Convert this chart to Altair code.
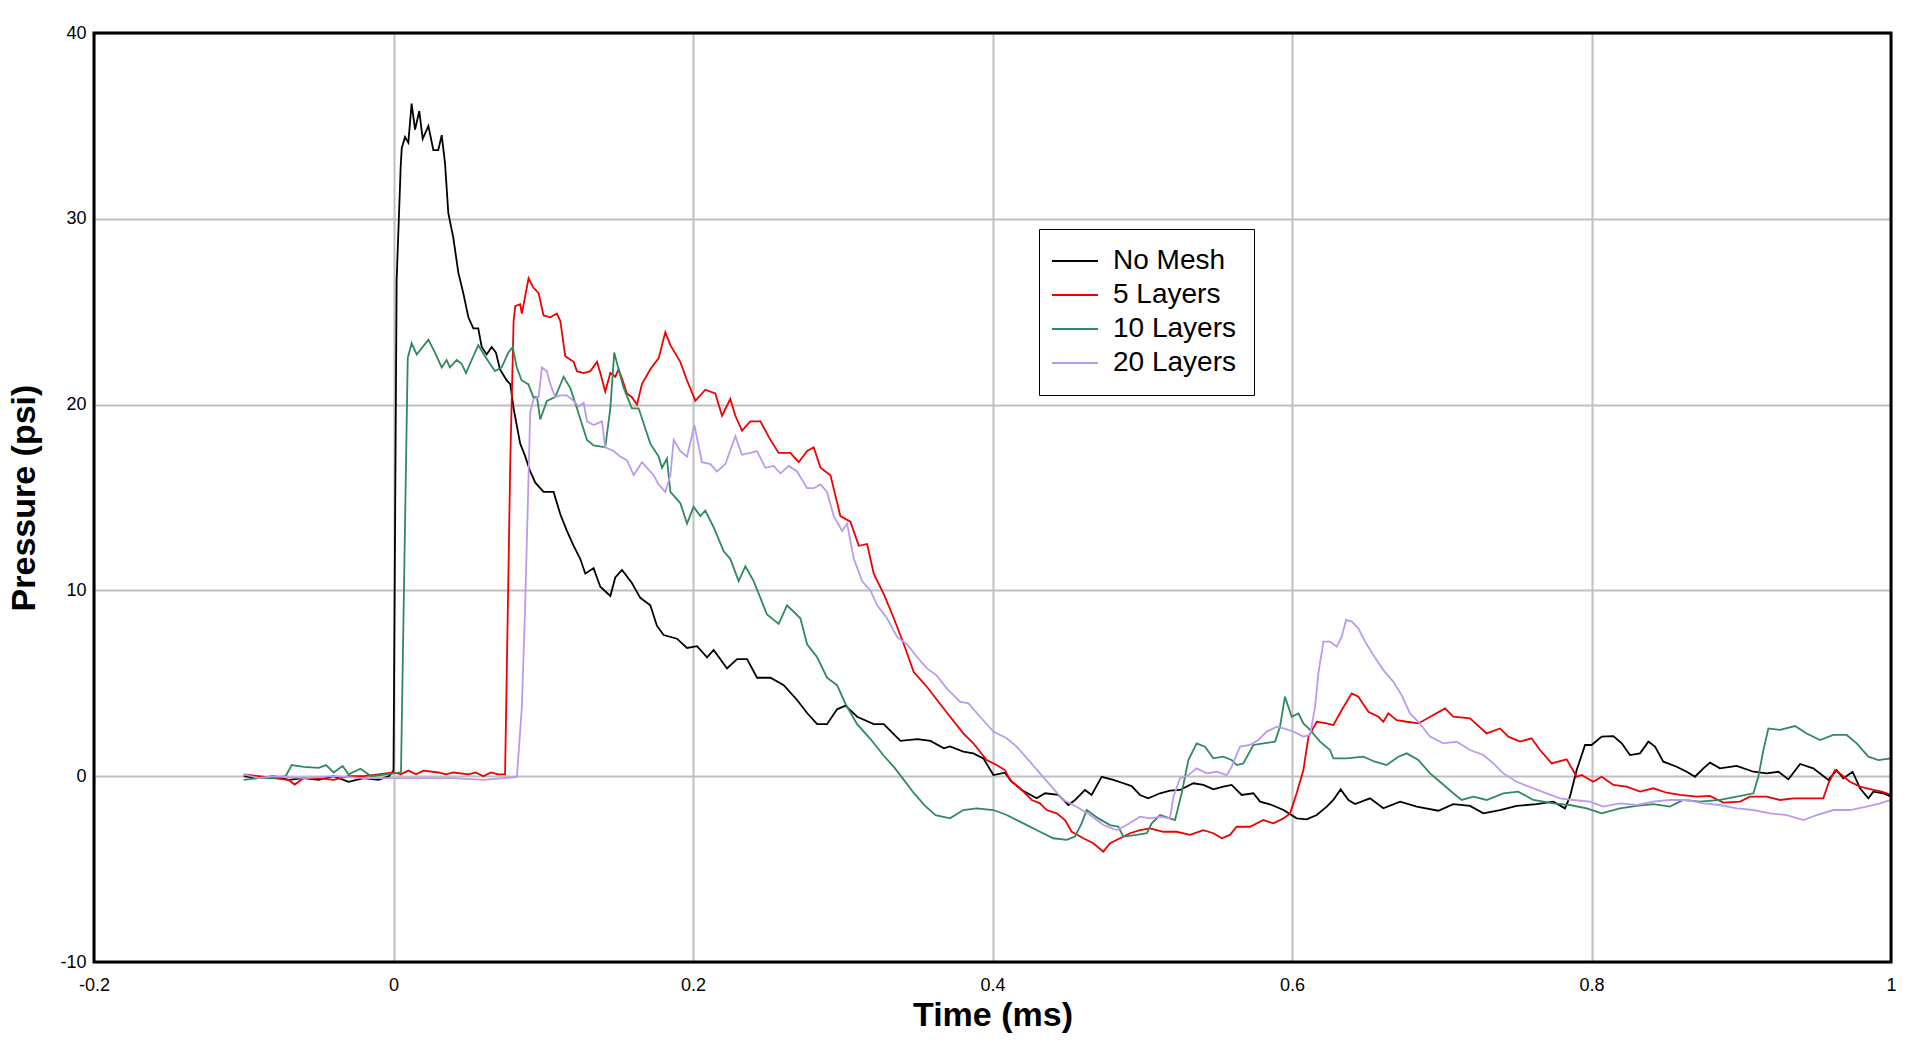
import altair as alt
import pandas as pd

# ---------------- data ----------------
series_names = ["No Mesh", "5 Layers", "10 Layers", "20 Layers"]
series_colors = ["#000000", "#f00000", "#2f8a5e", "#bc9af0"]

x_ticks = [-0.2, 0, 0.2, 0.4, 0.6, 0.8, 1]
y_ticks = [-10, 0, 10, 20, 30, 40]

nomesh_t = [-0.1, -0.09, -0.08, -0.07, -0.06, -0.05, -0.04, -0.03, -0.02, -0.01, -0.003, 0.0,
            0.0021, 0.0048, 0.0055, 0.0077, 0.0099, 0.0121, 0.0144, 0.0172, 0.0195, 0.0233, 0.0266,
            0.0299, 0.0322, 0.0344, 0.0366, 0.0399, 0.0433, 0.0466, 0.05, 0.0533, 0.0566, 0.0589,
            0.0622, 0.0656, 0.0684, 0.0711, 0.0756, 0.078, 0.0802, 0.0846, 0.088, 0.0913, 0.0947,
            0.1002, 0.1069, 0.1114, 0.1158, 0.1203, 0.1247, 0.1281, 0.1336, 0.1381, 0.1448, 0.1481,
            0.1526, 0.1592, 0.1648, 0.1715, 0.1759, 0.1804, 0.1893, 0.196, 0.2027, 0.2094, 0.2138,
            0.2227, 0.2294, 0.2361, 0.2428, 0.2517, 0.2606, 0.2695, 0.2762, 0.2829, 0.2895, 0.2962,
            0.3018, 0.3096, 0.3207, 0.3274, 0.3385, 0.3497, 0.3586, 0.3675, 0.3716, 0.3805, 0.3872,
            0.3939, 0.4006, 0.4083, 0.4128, 0.4195, 0.4295, 0.4351, 0.444, 0.4507, 0.4551, 0.4618,
            0.4662, 0.4729, 0.4807, 0.4874, 0.4929, 0.4985, 0.504, 0.5119, 0.5185, 0.5252, 0.5341,
            0.5408, 0.5475, 0.5541, 0.5597, 0.5664, 0.5742, 0.5787, 0.5865, 0.5943, 0.6031, 0.6098,
            0.6165, 0.6232, 0.6276, 0.6325, 0.6377, 0.6421, 0.6521, 0.661, 0.6722, 0.6833, 0.6977,
            0.7077, 0.7189, 0.7278, 0.7389, 0.75, 0.7634, 0.7745, 0.7823, 0.7856, 0.7901, 0.7957,
            0.8001, 0.8068, 0.8146, 0.8202, 0.8257, 0.8324, 0.838, 0.8424, 0.848, 0.8569, 0.8636,
            0.8691, 0.8747, 0.8792, 0.8858, 0.897, 0.9081, 0.917, 0.9248, 0.9315, 0.9393, 0.9481,
            0.9582, 0.9637, 0.9682, 0.9744, 0.9793, 0.9849, 0.9882, 0.9949, 1.0]
nomesh_p = [0.0, -0.1, 0.0, -0.2, -0.1, -0.2, 0.0, -0.3, -0.1, -0.2, 0.0, 0.3,
            26.7, 32.8, 33.8, 34.4, 34.1, 36.2, 34.8, 35.8, 34.3, 35.0, 33.7,
            33.7, 34.5, 33.0, 30.3, 29.0, 27.1, 26.0, 24.7, 24.1, 24.1, 23.1,
            22.7, 23.1, 22.8, 21.9, 21.3, 21.1, 19.8, 17.9, 17.2, 16.4, 15.8,
            15.3, 15.3, 14.1, 13.2, 12.4, 11.7, 10.9, 11.2, 10.2, 9.7, 10.7,
            11.1, 10.4, 9.6, 9.2, 8.1, 7.6, 7.4, 6.9, 7.0, 6.4, 6.8,
            5.8, 6.3, 6.3, 5.3, 5.3, 4.9, 4.1, 3.4, 2.8, 2.8, 3.6,
            3.8, 3.2, 2.8, 2.8, 1.9, 2.0, 1.9, 1.5, 1.6, 1.32, 1.23,
            0.96, 0.06, 0.19, -0.29, -0.74, -1.19, -0.92, -1.01, -1.55, -1.28, -0.74,
            -1.01, -0.03, -0.2, -0.38, -0.53, -1.01, -1.19, -0.92, -0.78, -0.74, -0.38,
            -0.47, -0.71, -0.56, -0.47, -1.01, -0.92, -1.37, -1.55, -1.82, -2.27, -2.32,
            -2.09, -1.64, -1.28, -0.71, -1.28, -1.5, -1.19, -1.73, -1.37, -1.64, -1.86,
            -1.5, -1.6, -2.0, -1.82, -1.6, -1.5, -1.37, -1.73, -1.1, 0.33, 1.68,
            1.68, 2.13, 2.16, 1.77, 1.14, 1.23, 1.86, 1.59, 0.78, 0.51, 0.24,
            -0.03, 0.42, 0.73, 0.42, 0.55, 0.24, 0.15, 0.24, -0.17, 0.66, 0.42,
            -0.2, 0.33, -0.11, 0.24, -0.65, -1.19, -0.83, -0.92, -1.1]

layers5_t = [-0.1, -0.09, -0.08, -0.07, -0.066, -0.06, -0.05, -0.04, -0.03, -0.02, -0.01, 0.0,
             0.005, 0.01, 0.015, 0.02, 0.03, 0.035, 0.04, 0.05, 0.055, 0.06, 0.065, 0.07, 0.0745,
             0.078, 0.0802, 0.0813, 0.0846, 0.0857, 0.0902, 0.0934, 0.0969, 0.1002, 0.1047, 0.1091,
             0.1114, 0.1147, 0.1203, 0.1225, 0.127, 0.1314, 0.1359, 0.1381, 0.1414, 0.1448, 0.1481,
             0.1503, 0.1526, 0.1559, 0.1592, 0.1626, 0.1659, 0.1715, 0.1771, 0.1815, 0.1849, 0.1915,
             0.196, 0.2016, 0.2082, 0.2149, 0.2194, 0.2249, 0.2283, 0.2327, 0.2383, 0.245, 0.2517,
             0.2572, 0.265, 0.2706, 0.2762, 0.2806, 0.2851, 0.2918, 0.2984, 0.3051, 0.3107, 0.3163,
             0.3207, 0.3274, 0.3341, 0.3408, 0.3474, 0.3563, 0.363, 0.3697, 0.3805, 0.3872, 0.3961,
             0.4028, 0.4083, 0.4117, 0.4195, 0.4262, 0.4317, 0.4362, 0.4429, 0.4484, 0.4529, 0.4607,
             0.4673, 0.474, 0.4785, 0.4852, 0.4918, 0.4985, 0.5052, 0.5141, 0.523, 0.5319, 0.5408,
             0.5475, 0.5531, 0.5586, 0.5631, 0.572, 0.5809, 0.5876, 0.5943, 0.5987, 0.6031, 0.6076,
             0.611, 0.6165, 0.6232, 0.6276, 0.6332, 0.6399, 0.6443, 0.651, 0.6577, 0.661, 0.6643,
             0.6699, 0.6766, 0.6844, 0.6944, 0.7022, 0.7077, 0.7189, 0.73, 0.7389, 0.7445, 0.7523,
             0.76, 0.7656, 0.7734, 0.7834, 0.7901, 0.7934, 0.8012, 0.8068, 0.8146, 0.8235, 0.8324,
             0.8413, 0.8502, 0.8591, 0.8702, 0.8791, 0.888, 0.8992, 0.9058, 0.917, 0.9259, 0.9348,
             0.9459, 0.9548, 0.9582, 0.9626, 0.9671, 0.9726, 0.9793, 0.9882, 0.9938, 1.0]
layers5_p = [0.1, 0.0, -0.1, -0.2, -0.45, -0.1, -0.1, -0.2, 0.0, 0.0, 0.1, 0.2,
             0.1, 0.3, 0.1, 0.3, 0.2, 0.1, 0.2, 0.1, 0.2, 0.0, 0.2, 0.1, 0.1,
             17.0, 24.5, 25.3, 25.4, 24.9, 26.8, 26.3, 26.0, 24.8, 24.7, 24.9,
             24.5, 22.6, 22.3, 21.8, 21.7, 21.8, 22.3, 21.7, 20.7, 21.7, 21.5,
             21.9, 21.4, 20.6, 20.4, 20.0, 21.1, 21.9, 22.5, 23.9, 23.2, 22.3,
             21.3, 20.2, 20.8, 20.6, 19.4, 20.3, 19.4, 18.6, 19.1, 19.1, 18.1,
             17.4, 17.4, 16.9, 17.5, 17.7, 16.6, 16.2, 14.0, 13.7, 12.4, 12.5,
             10.9, 9.8, 8.5, 7.1, 5.6, 4.8, 4.1, 3.4, 2.31, 1.77, 0.87,
             0.6, 0.33, -0.2, -0.74, -1.28, -1.46, -1.82, -2.0, -2.36, -2.99, -3.34,
             -3.61, -4.06, -3.61, -3.34, -3.07, -2.9, -2.81, -2.99, -2.99, -3.16, -2.9,
             -3.07, -3.34, -3.16, -2.72, -2.72, -2.36, -2.54, -2.27, -2.0, -0.92, 0.33,
             2.13, 2.93, 2.84, 2.75, 3.56, 4.46, 4.28, 3.47, 3.2, 2.93, 3.38,
             3.02, 2.93, 2.84, 3.29, 3.65, 3.2, 3.11, 2.3, 2.57, 2.13, 1.86,
             2.04, 1.41, 0.69, 0.91, -0.03, 0.06, -0.3, -0.03, -0.47, -0.56, -0.83,
             -0.65, -0.89, -1.01, -1.1, -1.06, -1.42, -1.37, -1.1, -1.1, -1.28, -1.19,
             -1.19, -1.19, -0.38, 0.33, 0.06, -0.3, -0.56, -0.74, -0.83, -1.01]

layers10_t = [-0.1, -0.09, -0.08, -0.072, -0.068, -0.06, -0.05, -0.045, -0.04, -0.034, -0.03,
              -0.022, -0.015, -0.005, 0.005, 0.0095, 0.0121, 0.0155, 0.0233, 0.0277, 0.0322, 0.0355,
              0.0377, 0.0422, 0.0455, 0.0484, 0.0522, 0.0566, 0.0611, 0.0644, 0.0678, 0.0722, 0.0767,
              0.0796, 0.0823, 0.0856, 0.09, 0.0934, 0.0958, 0.098, 0.1024, 0.108, 0.1136, 0.118,
              0.1225, 0.1292, 0.1336, 0.1414, 0.1448, 0.1474, 0.1503, 0.1537, 0.1592, 0.1637, 0.1682,
              0.1715, 0.1771, 0.1793, 0.1826, 0.1849, 0.1915, 0.196, 0.2004, 0.2049, 0.2082, 0.2138,
              0.2205, 0.2249, 0.2305, 0.235, 0.2405, 0.245, 0.2494, 0.2572, 0.2628, 0.2717, 0.2762,
              0.2829, 0.2895, 0.2962, 0.3018, 0.3096, 0.3185, 0.3274, 0.3341, 0.3408, 0.3474, 0.355,
              0.362, 0.3716, 0.3805, 0.3894, 0.4006, 0.4095, 0.4206, 0.4317, 0.4406, 0.4495, 0.4551,
              0.4595, 0.4629, 0.4707, 0.4785, 0.484, 0.4874, 0.4963, 0.503, 0.5063, 0.5119, 0.5185,
              0.5219, 0.5263, 0.5308, 0.5363, 0.5419, 0.5475, 0.5541, 0.5597, 0.5631, 0.5675, 0.5742,
              0.5809, 0.5887, 0.592, 0.5953, 0.5998, 0.6043, 0.6076, 0.6121, 0.6187, 0.6254, 0.6276,
              0.6365, 0.6476, 0.6554, 0.6632, 0.671, 0.6766, 0.6844, 0.6922, 0.6988, 0.7077, 0.7133,
              0.7211, 0.73, 0.7411, 0.7511, 0.7611, 0.7745, 0.7856, 0.7968, 0.8068, 0.819, 0.8302,
              0.8413, 0.8524, 0.8613, 0.8725, 0.8858, 0.897, 0.9081, 0.9114, 0.9148, 0.9181, 0.9259,
              0.9359, 0.9437, 0.9526, 0.9615, 0.9704, 0.9771, 0.9849, 0.9916, 1.0]
layers10_p = [-0.2, -0.1, -0.1, 0.0, 0.6, 0.5, 0.45, 0.6, 0.2, 0.55, 0.1,
              0.4, 0.0, 0.1, 0.2, 22.5, 23.3, 22.7, 23.5, 22.8, 22.0, 22.4,
              22.0, 22.4, 22.2, 21.7, 22.4, 23.2, 22.6, 22.2, 21.8, 22.0, 22.8,
              23.1, 22.0, 21.3, 21.1, 20.4, 20.4, 19.2, 20.2, 20.4, 21.5, 20.9,
              19.8, 18.1, 17.8, 17.7, 19.8, 22.8, 21.9, 20.9, 19.8, 19.8, 18.7,
              17.9, 17.2, 16.6, 17.1, 15.3, 14.7, 13.6, 14.5, 14.0, 14.3, 13.4,
              12.1, 11.7, 10.5, 11.3, 10.5, 9.6, 8.7, 8.2, 9.2, 8.5, 7.1,
              6.4, 5.3, 4.9, 3.9, 2.8, 2.0, 1.1, 0.5, -0.2, -0.9, -1.6,
              -2.1, -2.27, -1.82, -1.73, -1.82, -2.09, -2.54, -2.99, -3.34, -3.43, -3.25,
              -2.54, -1.82, -2.27, -2.63, -2.72, -3.25, -3.16, -3.07, -2.54, -2.09, -2.27,
              -2.36, -0.92, 0.87, 1.77, 1.59, 0.96, 1.05, 0.87, 0.6, 0.69, 1.68,
              1.77, 1.86, 2.67, 4.28, 3.2, 3.38, 2.84, 2.49, 1.86, 1.41, 0.96,
              0.96, 1.05, 0.78, 0.6, 1.05, 1.23, 0.87, 0.15, -0.3, -0.92, -1.28,
              -1.1, -1.28, -0.92, -0.83, -1.28, -1.46, -1.55, -1.73, -2.0, -1.73, -1.6,
              -1.5, -1.64, -1.28, -1.37, -1.28, -1.1, -0.92, -0.03, 1.41, 2.57, 2.49,
              2.7, 2.3, 1.95, 2.22, 2.22, 1.77, 1.05, 0.87, 0.96]

layers20_t = [-0.1, -0.09, -0.08, -0.06, -0.04, -0.02, 0.0, 0.02, 0.04, 0.06, 0.0824, 0.0857,
              0.088, 0.0902, 0.0913, 0.0935, 0.0969, 0.0991, 0.1024, 0.1047, 0.108, 0.1114, 0.1158,
              0.1203, 0.1236, 0.127, 0.1292, 0.1336, 0.1392, 0.1414, 0.147, 0.1514, 0.1559, 0.1604,
              0.1659, 0.1693, 0.1737, 0.1771, 0.1815, 0.1849, 0.1871, 0.1915, 0.196, 0.2009, 0.206,
              0.2116, 0.216, 0.2216, 0.2283, 0.2327, 0.2383, 0.2428, 0.2483, 0.2539, 0.2584, 0.2639,
              0.2695, 0.2762, 0.2806, 0.2851, 0.2895, 0.294, 0.2996, 0.3029, 0.3074, 0.3129, 0.3185,
              0.323, 0.3296, 0.3363, 0.343, 0.3497, 0.3563, 0.363, 0.3697, 0.3783, 0.3839, 0.3917,
              0.4006, 0.4095, 0.4161, 0.425, 0.4317, 0.4384, 0.4473, 0.4562, 0.4651, 0.474, 0.4829,
              0.4896, 0.4985, 0.5052, 0.5119, 0.5185, 0.5208, 0.5252, 0.5308, 0.5363, 0.543, 0.5497,
              0.5564, 0.5597, 0.5653, 0.572, 0.5775, 0.5831, 0.5898, 0.5943, 0.601, 0.6076, 0.6121,
              0.6154, 0.6176, 0.621, 0.6254, 0.6299, 0.6332, 0.6361, 0.6399, 0.6443, 0.6488, 0.6543,
              0.661, 0.6677, 0.6732, 0.6788, 0.6844, 0.6922, 0.701, 0.71, 0.7189, 0.7278, 0.7345,
              0.7411, 0.75, 0.7611, 0.77, 0.779, 0.7879, 0.799, 0.8079, 0.819, 0.8302, 0.8413,
              0.8524, 0.8636, 0.8747, 0.8858, 0.897, 0.9081, 0.9192, 0.9303, 0.9415, 0.9504, 0.9615,
              0.9726, 0.9837, 0.9927, 1.0]
layers20_p = [0.1, -0.1, 0.0, -0.1, 0.0, -0.1, -0.1, -0.1, -0.1, -0.2, -0.04, 3.7,
              9.4, 16.2, 19.6, 20.3, 20.4, 22.0, 21.8, 21.1, 20.4, 20.5, 20.5,
              20.2, 19.9, 20.1, 19.1, 18.9, 19.1, 17.7, 17.5, 17.2, 17.0, 16.2,
              16.9, 16.6, 16.2, 15.7, 15.3, 16.2, 18.1, 17.5, 17.2, 18.9, 16.9,
              16.8, 16.4, 16.8, 18.3, 17.3, 17.4, 17.5, 16.6, 16.7, 16.3, 16.7,
              16.4, 15.5, 15.5, 15.7, 15.3, 14.0, 13.2, 13.6, 11.7, 10.5, 10.0,
              9.2, 8.5, 7.5, 7.1, 6.4, 5.8, 5.4, 4.7, 4.01, 3.92, 3.2,
              2.4, 2.04, 1.59, 0.78, 0.15, -0.47, -1.28, -1.64, -2.09, -2.63, -2.9,
              -2.63, -2.18, -2.27, -2.18, -2.27, -1.1, -0.12, 0.06, 0.42, 0.15, 0.24,
              0.06, 0.51, 1.59, 1.68, 1.95, 2.4, 2.67, 2.58, 2.4, 2.13, 2.22,
              3.74, 5.53, 7.24, 7.24, 6.97, 7.51, 8.41, 8.32, 7.96, 7.24, 6.52,
              5.71, 5.08, 4.37, 3.38, 2.93, 2.13, 1.77, 1.86, 1.41, 1.14, 0.69,
              0.15, -0.3, -0.65, -0.92, -1.19, -1.28, -1.37, -1.64, -1.46, -1.55, -1.37,
              -1.28, -1.28, -1.46, -1.55, -1.73, -1.82, -2.0, -2.09, -2.36, -2.09, -1.82,
              -1.82, -1.64, -1.46, -1.28]

# ---------------- table ----------------
frames = []
for name, ts, ps in zip(series_names,
                        [nomesh_t, layers5_t, layers10_t, layers20_t],
                        [nomesh_p, layers5_p, layers10_p, layers20_p]):
    frames.append(pd.DataFrame({"t": ts, "p": ps, "series": name}))
df = pd.concat(frames, ignore_index=True)

FONT = "Liberation Sans"
W, H = 1797, 929

legend_kwargs = dict(
    orient="none", legendX=945, legendY=196, title=None,
    labelFont=FONT, labelFontSize=28, labelColor="black",
    symbolType="M-2.3,0H2.3", symbolSize=400, symbolStrokeWidth=2,
    symbolOffset=4, labelOffset=24, padding=18, rowPadding=6,
    strokeColor="black", fillColor="white", direction="vertical", labelLimit=400,
)
try:
    alt.Legend(strokeWidth=2).to_dict()
    legend_kwargs["strokeWidth"] = 2
except Exception:
    pass

tick_label = "replace(format(datum.value, '~g'), '\u2212', '-')"

lines = alt.Chart(df).mark_line(strokeWidth=1.8, interpolate="linear").encode(
    x=alt.X("t:Q",
            scale=alt.Scale(domain=[-0.2, 1], nice=False, zero=False),
            axis=alt.Axis(values=x_ticks, title="Time (ms)", grid=True, gridColor="#c0c0c0",
                          gridWidth=2, ticks=False, domain=False,
                          labelFont=FONT, labelFontSize=18, labelColor="black", labelPadding=14,
                          labelExpr=tick_label, labelFlush=False,
                          titleFont=FONT, titleFontSize=34, titleFontWeight="bold", titleColor="black",
                          titleX=W / 2, titleY=53, titleBaseline="middle", titleAlign="center")),
    y=alt.Y("p:Q",
            scale=alt.Scale(domain=[-10, 40], nice=False, zero=False),
            axis=alt.Axis(values=y_ticks, title="Pressure (psi)", grid=True, gridColor="#c0c0c0",
                          gridWidth=2, ticks=False, domain=False,
                          labelFont=FONT, labelFontSize=18, labelColor="black", labelPadding=8,
                          labelExpr=tick_label, labelFlush=False,
                          titleFont=FONT, titleFontSize=34, titleFontWeight="bold", titleColor="black",
                          titleX=-70, titleY=H / 2, titleAngle=-90, titleBaseline="middle",
                          titleAlign="center")),
    color=alt.Color("series:N",
                    scale=alt.Scale(domain=series_names, range=series_colors),
                    sort=series_names,
                    legend=alt.Legend(**legend_kwargs)),
    detail="series:N",
)

frame = alt.Chart(pd.DataFrame({"k": [0]})).mark_rect(
    filled=False, stroke="black", strokeWidth=3, fill=None
).encode(x=alt.value(0), x2=alt.value(W), y=alt.value(0), y2=alt.value(H))

chart = alt.layer(lines, frame).properties(
    width=W, height=H,
    padding={"left": 94, "top": 33, "right": 24, "bottom": 86},
    autosize=alt.AutoSizeParams(type="none"),
    background="white",
).configure_view(stroke=None)

chart.save("out.html", embed_options={"renderer": "svg", "actions": False})
